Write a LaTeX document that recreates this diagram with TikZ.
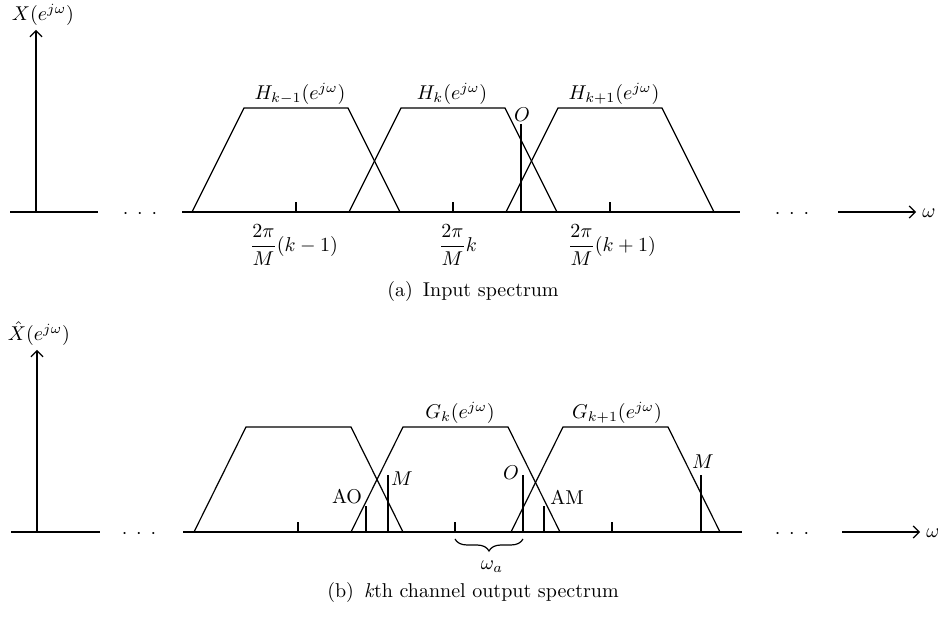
\documentclass[tikz,border=0pt]{standalone}
\usepackage{amsmath}
\usetikzlibrary{decorations.pathreplacing,arrows.meta}
\newcommand{\mydots}{\ensuremath{\mathord{\cdot}\mkern8mu\mathord{\cdot}\mkern8mu\mathord{\cdot}}}
\begin{document}
\begin{tikzpicture}[x=0.5pt,y=-0.5pt,
  thinline/.style={line width=0.6pt},
  pulse/.style={line width=1.3pt},
  lbl/.style={inner sep=0pt},
  axisarrow/.style={line width=0.6pt,-{Straight Barb[length=3pt,width=6pt]}},
  tickmark/.style={line width=0.6pt}]
\useasboundingbox (0,0) rectangle (938,619);

% ================= (a) Input spectrum =================
\coordinate (a0) at (10,212);
\coordinate (a1) at (98,212);
\coordinate (aorig) at (36,212);
\coordinate (atop) at (36,30);
\coordinate (a2) at (182,212);
\coordinate (a3) at (740,212);
\coordinate (a4) at (838,212);
\coordinate (a5) at (916,212);
\draw[thinline] (a0) -- (a1);
\draw[axisarrow] (aorig) -- (atop);
\node[lbl] (Xlab) at (43,15) {$X(e^{j\omega})$};
\node[lbl] (adotsL) at (140,214) {\mydots};
\draw[thinline] (a2) -- (a3);
\node[lbl] (adotsR) at (792,214) {\mydots};
\draw[axisarrow] (a4) -- (a5);
\node[lbl, anchor=west] (aomega) at (922,213) {$\omega$};

\foreach \c in {296,453,610}{
  \draw[thinline] (\c-104,212) -- (\c-52,108) -- (\c+52,108) -- (\c+104,212);
  \draw[tickmark] (\c,212) -- (\c,202);
}
\node[lbl] (Hkm) at (300,94) {$H_{k-1}(e^{j\omega})$};
\node[lbl] (Hk)  at (452,94) {$H_{k}(e^{j\omega})$};
\node[lbl] (Hkp) at (614,94) {$H_{k+1}(e^{j\omega})$};

\coordinate (Ob) at (521,212);
\coordinate (Ot) at (521,124);
\draw[pulse] (Ob) -- (Ot);
\node[lbl] (Oa) at (522,115) {$O$};

\node[lbl] (t1) at (294,245) {$\dfrac{2\pi}{M}(k-1)$};
\node[lbl] (t2) at (458,245) {$\dfrac{2\pi}{M}k$};
\node[lbl] (t3) at (612,245) {$\dfrac{2\pi}{M}(k+1)$};

\node[lbl] (capa) at (473,292) {(a)\enspace Input spectrum};

% ================= (b) kth channel output spectrum =================
\coordinate (b0) at (11,532);
\coordinate (b1) at (100,532);
\coordinate (borig) at (37,532);
\coordinate (btop) at (37,350);
\coordinate (b2) at (183,532);
\coordinate (b3) at (742,532);
\coordinate (b4) at (842,532);
\coordinate (b5) at (920,532);
\draw[thinline] (b0) -- (b1);
\draw[axisarrow] (borig) -- (btop);
\node[lbl] (Xhlab) at (39,334) {$\hat{X}(e^{j\omega})$};
\node[lbl] (bdotsL) at (139,534) {\mydots};
\draw[thinline] (b2) -- (b3);
\node[lbl] (bdotsR) at (792,534) {\mydots};
\draw[axisarrow] (b4) -- (b5);
\node[lbl, anchor=west] (bomega) at (926,533) {$\omega$};

\foreach \c in {298.5,455.5,615.5}{
  \draw[thinline] (\c-104.5,532) -- (\c-52.5,427) -- (\c+52.5,427) -- (\c+104.5,532);
}
\foreach \c in {298,455,612}{
  \draw[tickmark] (\c,532) -- (\c,522);
}
\node[lbl] (Gk)  at (460,413) {$G_{k}(e^{j\omega})$};
\node[lbl] (Gkp) at (617,413) {$G_{k+1}(e^{j\omega})$};

% pulses
\draw[pulse] (366,532) coordinate (AOb) -- (366,506) coordinate (AOt);
\draw[pulse] (388,532) coordinate (M1b) -- (388,475) coordinate (M1t);
\draw[pulse] (523,532) coordinate (O2b) -- (523,475) coordinate (O2t);
\draw[pulse] (544,532) coordinate (AMb) -- (544,506) coordinate (AMt);
\draw[pulse] (701,532) coordinate (M2b) -- (701,475) coordinate (M2t);

\node[lbl] (AO) at (347,497) {AO};
\node[lbl] (M1) at (402,479) {$M$};
\node[lbl] (O2) at (511,473) {$O$};
\node[lbl] (AM) at (567,497) {AM};
\node[lbl] (M2) at (703,462) {$M$};

\coordinate (brL) at (455,539);
\coordinate (brR) at (523,539);
\draw[thinline, decorate, decoration={brace, amplitude=6pt}] (brR) -- (brL);
\node[lbl] (wa) at (492,567) {$\omega_a$};

\node[lbl] (capb) at (473,593) {(b)\enspace\textit{k}th channel output spectrum};
\end{tikzpicture}
\end{document}
